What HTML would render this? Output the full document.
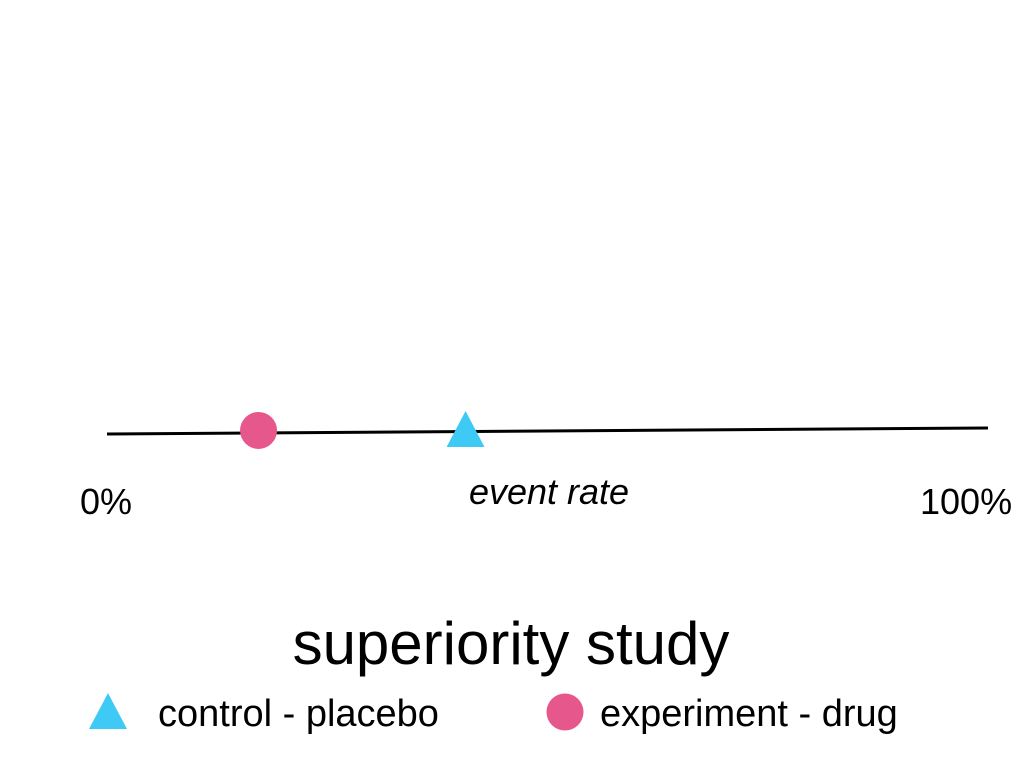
<!DOCTYPE html>
<html><head><meta charset="utf-8"><style>
html,body{margin:0;padding:0;background:#fff;}
svg{display:block;font-family:"Liberation Sans",sans-serif;}
</style></head><body>
<svg width="1024" height="768" viewBox="0 0 1024 768">
<line id="axis" x1="107" y1="434" x2="988" y2="428" stroke="#000" stroke-width="3"/>
<g id="marks"></g>
<text x="80" y="514" font-size="36" fill="#000">0%</text>
<text x="920" y="514" font-size="36" fill="#000">100%</text>
<text x="549" y="504" font-size="36" font-style="italic" text-anchor="middle" fill="#000">event rate</text>
<text x="511" y="664" font-size="60" text-anchor="middle" fill="#000">superiority study</text>
<g>
<g>
<polygon points="108,693 127,729 89,729" fill="#3fcaf5"/>
<text x="158" y="726" font-size="38" fill="#000">control - placebo</text>
</g>
<g>
<circle cx="565" cy="712" r="18.5" fill="#e6578c"/>
<text x="600" y="726" font-size="38" fill="#000">experiment - drug</text>
</g>
</g>
</svg>
<script>
const groups = ["experiment - drug", "control - placebo"];
const eventRates = [17.2, 40.7];
const shapes = ["circle", "triangle"];
const x0 = 107, x1 = 988, y0 = 434, y1 = 428;
function xScale(v){ return x0 + (x1 - x0) * v / 100; }
function yAt(v){ return y0 + (y1 - y0) * v / 100 - 2.5; }
const g = document.getElementById('marks');
const NS = 'http://www.w3.org/2000/svg';
eventRates.forEach((v, i) => {
  const cx = xScale(v), cy = yAt(v);
  let el;
  if (shapes[i] === 'circle') {
    el = document.createElementNS(NS, 'circle');
    el.setAttribute('cx', cx); el.setAttribute('cy', cy); el.setAttribute('r', 18.5);
    el.setAttribute('fill', '#e6578c');
    
  } else {
    el = document.createElementNS(NS, 'polygon');
    el.setAttribute('points', `${cx},${cy-18} ${cx+19},${cy+18} ${cx-19},${cy+18}`);
    el.setAttribute('fill', '#3fcaf5');
    
  }
  
  g.appendChild(el);
});
</script>
</body></html>
